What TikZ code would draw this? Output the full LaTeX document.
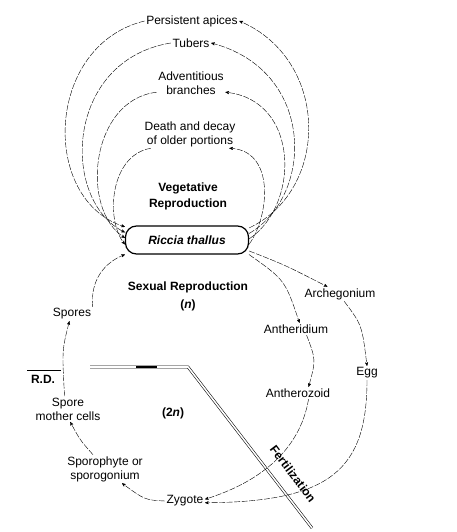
\documentclass[tikz,border=0pt]{standalone}
\usepackage{fontspec}
\setmainfont{Liberation Sans}
\usetikzlibrary{arrows}

\begin{document}
\begin{tikzpicture}[x=1pt,y=-1pt,->,>=stealth',thin,
                    font=\fontsize{12}{14}\selectfont]

  \tikzstyle{every node}=[align=center,inner sep=1.5pt]
  \tikzstyle{cycle}=[dash pattern=on 6pt off 1.5pt]
  \tikzstyle{bound}=[-,double,double distance=1.6pt,line width=0.55pt]

  \useasboundingbox (0,0) rectangle (456,532);

  % vegetative side
  \node (apices)  at (192,21)  {Persistent apices};
  \node (tubers)  at (191,43)  {Tubers};
  \node (advent)  at (191,83)  {Adventitious \\ branches};
  \node (decay)   at (190,134) {Death and decay \\ of older portions};
  \node[font=\bfseries\fontsize{12}{16}\selectfont] (veg) at (188,196)
                                {Vegetative \\ Reproduction};
  \node[draw,line width=1.2pt,rounded corners=11pt,fill=white,
        minimum width=123pt,minimum height=28pt,
        font=\bfseries\itshape\fontsize{12}{14}\selectfont]
                  (thallus) at (187,240) {Riccia thallus};

  % sexual side
  \node[font=\bfseries\fontsize{12}{14}\selectfont] (sexual) at (188,287) {Sexual Reproduction};
  \node[font=\bfseries\fontsize{12}{14}\selectfont] (haploid) at (188,305) {(\textit{n})};
  \node (spores)   at (72,314)  {Spores};
  \node (archeg)   at (340,294) {Archegonium};
  \node (antheri)  at (296,329) {Antheridium};
  \node (antheroz) at (298,393) {Antherozoid};
  \node (egg)      at (367,373) {Egg};
  \node[font=\bfseries\fontsize{12}{14}\selectfont] (rd) at (43,379) {R.D.};
  \node (smc)      at (68,409)  {Spore \\ mother cells};
  \node[font=\bfseries\fontsize{12}{14}\selectfont] (diploid) at (173,413) {(2\textit{n})};
  \node (sporo)    at (105,469) {Sporophyte or \\ sporogonium};
  \node (zygote)   at (185,501) {Zygote};
  \node[rotate=-53,font=\bfseries\fontsize{12}{14}\selectfont] (fert) at (293,474) {Fertilization};

  % n / 2n boundary
  \draw[bound] (rd.north west) ++(-2,-4) -- ++(34,0);
  \draw[bound] (90,367) -- (188,367) -- (312,528);
  \draw[-,line width=2.6pt] (136,367) -- (157,367);

  % vegetative loops
  \draw[cycle] (thallus.11) .. controls (330,190) and (330,60) .. (apices.east);
  \draw[cycle] (apices.west) .. controls (45,45) and (40,200) .. (thallus.168);
  \draw[cycle] (thallus.6) .. controls (315,195) and (315,70) .. (tubers.east);
  \draw[cycle] (tubers.west) .. controls (65,60) and (60,200) .. (thallus.173);
  \draw[cycle] (thallus.1) .. controls (300,205) and (300,100) .. (advent.-15);
  \draw[cycle] (advent.195) .. controls (90,100) and (80,210) .. (thallus.178);
  \draw[cycle] (thallus.-4) .. controls (270,215) and (275,150) .. (decay.-20);
  \draw[cycle] (decay.200) .. controls (110,155) and (105,220) .. (thallus.184);

  % sexual cycle
  \draw[cycle] (thallus.-10) .. controls (285,265) .. (archeg.150);
  \draw[cycle] (thallus.south east) .. controls (285,280) .. (antheri.60);
  \draw[cycle] (archeg.-60) .. controls (362,325) .. (egg.north);
  \draw[cycle] (antheri.-30) .. controls (316,360) .. (antheroz.30);
  \draw[cycle] (antheroz.-30) .. controls (300,450) and (260,482) .. (zygote.5);
  \draw[cycle] (egg.south) .. controls (367,470) and (330,502) .. (zygote.-5);
  \draw[cycle] (zygote.west) .. controls (145,500) .. (sporo.-40);
  \draw[cycle] (sporo.130) .. controls (80,440) .. (smc.-80);
  \draw[cycle] (smc.105) .. controls (62,350) .. (spores.250);
  \draw[cycle] (spores.north east) .. controls (90,280) and (105,262) .. (thallus.south west);
\end{tikzpicture}
\end{document}
